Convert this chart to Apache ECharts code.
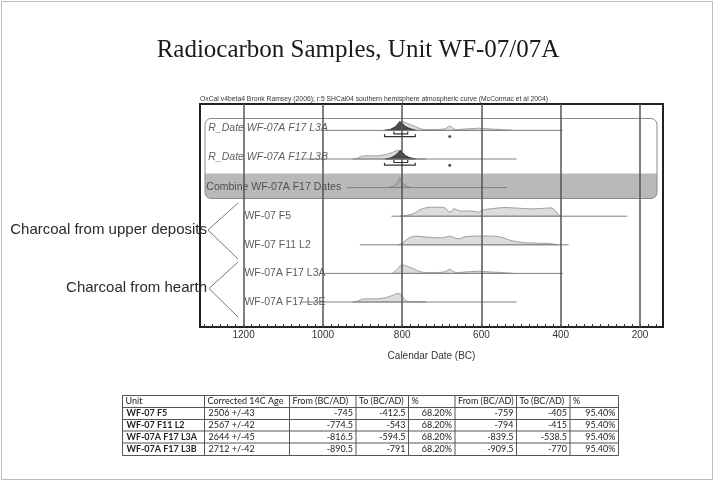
<!DOCTYPE html>
<html lang="en">
<head>
  <meta charset="UTF-8">
  <title>Radiocarbon Samples</title>
  <script src="https://cdn.jsdelivr.net/npm/echarts@6/dist/echarts.min.js"></script>
  <style>
    html, body { margin: 0; padding: 0; background: #fff; }
  </style>
</head>
<body>
<div id="chart" style="width: 715px; height: 482px"></div>
<script>

  // row labels of the OxCal multiplot, top to bottom
  const rowLabels = ['R_Date WF-07A F17 L3A', 'R_Date WF-07A F17 L3B', 'Combine WF-07A F17 Dates',
    'WF-07 F5', 'WF-07 F11 L2', 'WF-07A F17 L3A', 'WF-07A F17 L3E'];

  // range line of each row, calendar years BC [from, to]
  const rowRanges = [[1000, 395], [1057, 511], [940, 536], [827, 232], [907, 380], [995, 395], [1057, 511]];

  // probability curves: [year BC, height]
  const distL3A = [[825, 0], [815, 3], [805, 7.5], [798, 8.5], [790, 7.5], [780, 6], [770, 4.5], [760, 2.5],
    [750, 1.2], [740, 0.7], [720, 0.8], [705, 1], [692, 1.5], [684, 3.5], [680, 4.3], [675, 3], [668, 1.2],
    [660, 0.8], [645, 1.3], [625, 1.8], [606, 2.2], [590, 1.8], [575, 1.3], [555, 1], [535, 0.4], [520, 0]];
  const distL3B = [[925, 0], [915, 0.5], [900, 3], [880, 3.3], [865, 3], [850, 3.8], [840, 4.5], [825, 6.5],
    [812, 8.7], [805, 8], [800, 6], [795, 3], [790, 1], [780, 0.5], [760, 0.3], [740, 0]];
  const distF5 = [[805, 0], [790, 0.8], [775, 2], [765, 4], [755, 6.5], [745, 8], [730, 9], [715, 9], [700, 9],
    [690, 8], [682, 4], [676, 5], [669, 7.7], [660, 6], [650, 5], [640, 5.2], [625, 5], [614, 4.7], [606, 3.7],
    [600, 6], [590, 6.8], [575, 7.5], [556, 8.3], [540, 8.7], [520, 8.3], [506, 8], [490, 7.6], [473, 7.3],
    [455, 7.6], [439, 8], [422, 8.3], [414, 6], [405, 1], [400, 0]];
  const distF11 = [[810, 0], [800, 1.5], [790, 5], [780, 7.5], [765, 8.7], [750, 8.2], [740, 7.7], [715, 7],
    [698, 7], [688, 8], [681, 8.7], [675, 8], [669, 7.3], [660, 6], [652, 6.5], [644, 8], [623, 8.7], [600, 8.8],
    [580, 8.7], [564, 8.5], [548, 7.5], [535, 5.5], [523, 4], [505, 2.7], [489, 2], [470, 1.8], [456, 1.5],
    [431, 1.5], [414, 0.5], [405, 0]];
  const distCombine = [[835, 0], [825, 1], [818, 2.5], [812, 5], [806, 10], [800, 5], [794, 2.5], [786, 1], [778, 0]];
  // modelled (posterior) curves of the two R_Dates
  const postL3A = [[845, 0], [830, 1], [820, 3], [812, 6], [806, 9], [800, 7], [792, 4], [782, 2], [772, 0.8], [765, 0]];
  const postL3B = [[842, 0], [830, 1], [820, 3], [812, 5.5], [805, 8.7], [799, 6.5], [792, 3.5], [782, 1.5], [772, 0.6], [767, 0]];

  // 68.2% and 95.4% brackets and the lone dot under the R_Dates
  const range68 = [[821, 786], [821, 786]];
  const range95 = [[844.5, 767], [844.5, 767]];
  const dotYears = [680, 680];

  const gridYears = [200, 400, 600, 800, 1000, 1200];

  // table under the plot
  const tableHeader = ['Unit', 'Corrected 14C Age', 'From (BC/AD)', 'To (BC/AD)', '%', 'From (BC/AD)', 'To (BC/AD)', '%'];
  const units = ['WF-07 F5', 'WF-07 F11 L2', 'WF-07A F17 L3A', 'WF-07A F17 L3B'];
  const ages = ['2506 +/-43', '2567 +/-42', '2644 +/-45', '2712 +/-42'];
  const from68 = [-745, -774.5, -816.5, -890.5];
  const to68 = [-412.5, -543, -594.5, -791];
  const from95 = [-759, -794, -839.5, -909.5];
  const to95 = [-405, -415, -538.5, -770];

  // --- layout ---
  const rowBase = rowLabels.map((_, i) => 25 + 28.6 * (6 - i));
  const minorTicks = [];
  for (let v = 160; v <= 1300; v += 20) minorTicks.push(v);

  function areaSeries(points, base, fill, stroke, z) {
    return {
      type: 'custom',
      z: z,
      silent: true,
      data: points.map(p => [p[0], base + p[1]]),
      renderItem: function (params, api) {
        if (params.dataIndex !== 0) return;
        const pts = points.map(p => api.coord([p[0], base + p[1]]));
        return {
          type: 'polygon',
          shape: { points: pts },
          style: { fill: fill, stroke: stroke, lineWidth: 1 }
        };
      }
    };
  }

  const series = [];

  // curves
  const curves = [
    [distL3A, 0, '#dcdcdc', '#a0a0a0'],
    [distL3B, 1, '#dcdcdc', '#a0a0a0'],
    [distCombine, 2, 'rgba(150,150,150,0.35)', '#888'],
    [distF5, 3, '#dcdcdc', '#a0a0a0'],
    [distF11, 4, '#dcdcdc', '#a0a0a0'],
    [distL3A, 5, '#dcdcdc', '#a0a0a0'],
    [distL3B, 6, '#dcdcdc', '#a0a0a0']
  ];
  curves.forEach(c => series.push(areaSeries(c[0], rowBase[c[1]], c[2], c[3], 2)));
  series.push(areaSeries(postL3A, rowBase[0], '#4a4a4a', '#333', 3));
  series.push(areaSeries(postL3B, rowBase[1], '#4a4a4a', '#333', 3));

  // range lines
  rowRanges.forEach((r, i) => {
    series.push({
      type: 'line',
      z: 4,
      silent: true,
      symbol: 'none',
      data: [[r[0], rowBase[i]], [r[1], rowBase[i]]],
      lineStyle: { color: '#808080', width: 1 }
    });
  });

  // brackets
  const bracketData = [];
  range68.forEach((r, i) => bracketData.push([r[0], r[1], rowBase[i] - 3.5]));
  range95.forEach((r, i) => bracketData.push([r[0], r[1], rowBase[i] - 6.2]));
  series.push({
    type: 'custom',
    z: 5,
    silent: true,
    data: bracketData,
    renderItem: function (params, api) {
      const a = api.coord([api.value(0), api.value(2)]);
      const b = api.coord([api.value(1), api.value(2)]);
      return {
        type: 'polyline',
        shape: { points: [[a[0], a[1] - 2.5], a, b, [b[0], b[1] - 2.5]] },
        style: { stroke: '#333', lineWidth: 1.2, fill: null }
      };
    }
  });
  series.push({
    type: 'scatter',
    z: 5,
    silent: true,
    symbolSize: 3,
    itemStyle: { color: '#222' },
    data: dotYears.map((y, i) => [y, rowBase[i] - 6.2])
  });

  // row labels
  const labelAt = [1289, 1289, 1294, 1198, 1198, 1198, 1198];
  series.push({
    type: 'scatter',
    z: 1,
    silent: true,
    symbolSize: 0,
    data: rowLabels.map((name, i) => ({
      name: name,
      value: [labelAt[i], rowBase[i] + (i < 2 ? 2 : 0)],
      label: { fontStyle: i < 2 ? 'italic' : 'normal' }
    })),
    label: {
      show: true,
      position: 'right',
      distance: 0,
      formatter: '{b}',
      fontSize: 10.5,
      fontFamily: 'Liberation Sans',
      color: '#333'
    }
  });

  // grid lines
  series.push({
    type: 'line',
    z: 10,
    silent: true,
    symbol: 'none',
    data: [[200, 0]],
    lineStyle: { opacity: 0 },
    markLine: {
      silent: true,
      symbol: ['none', 'none'],
      label: { show: false },
      lineStyle: { color: '#555', width: 1.5, type: 'solid' },
      data: gridYears.map(v => ({ xAxis: v }))
    }
  });

  // --- table ---
  function buildTable() {
    const colX = [122.5, 204.5, 289.5, 356, 408.5, 455, 516.5, 570, 618.5];
    const rowY = [395.5, 407.5, 419.5, 431, 443, 455.5];
    const els = [];
    const font = '9px Lato';
    const bold = 'bold 9px Lato';
    tableHeader.forEach((t, c) => {
      els.push({ type: 'text', x: colX[c] + 3, y: (rowY[0] + rowY[1]) / 2,
        style: { text: t, font: font, fill: '#222', align: 'left', verticalAlign: 'middle' } });
    });
    units.forEach((u, r) => {
      const y = (rowY[r + 1] + rowY[r + 2]) / 2;
      const cells = [u, ages[r], String(from68[r]), String(to68[r]), '68.20%', String(from95[r]), String(to95[r]), '95.40%'];
      cells.forEach((t, c) => {
        const left = c < 2;
        els.push({ type: 'text', x: left ? colX[c] + 4 : colX[c + 1] - 3, y: y,
          style: { text: t, font: c === 0 ? bold : font, fill: '#222', align: left ? 'left' : 'right', verticalAlign: 'middle' } });
      });
    });
    rowY.forEach(y => els.push({ type: 'line', shape: { x1: colX[0], y1: y, x2: colX[8], y2: y },
      style: { stroke: '#555', lineWidth: 1 } }));
    colX.forEach(x => els.push({ type: 'line', shape: { x1: x, y1: rowY[0], x2: x, y2: rowY[5] },
      style: { stroke: '#555', lineWidth: 1 } }));
    return els;
  }

  const graphic = [
    { type: 'rect', shape: { x: 1.5, y: 1.5, width: 711, height: 478 }, style: { fill: 'none', stroke: '#bbb', lineWidth: 1 }, z: 0 },
    { type: 'text', x: 358, y: 50, style: { text: 'Radiocarbon Samples, Unit WF-07/07A', font: '25px "Liberation Serif"', fill: '#1a1a1a', align: 'center', verticalAlign: 'middle' } },
    { type: 'text', x: 200, y: 99.5, style: { text: 'OxCal v4beta4 Bronk Ramsey (2006); r:5 SHCal04 southern hemisphere atmospheric curve (McCormac et al 2004)', font: '6.8px "Liberation Sans"', fill: '#333', align: 'left', verticalAlign: 'middle' } },
    // R_Date group box, gray band for the Combine row
    { type: 'rect', z: -1, shape: { x: 205, y: 173.5, width: 452, height: 25, r: [0, 0, 6, 6] }, style: { fill: '#b9b9b9' } },
    { type: 'rect', z: -1, shape: { x: 205, y: 118.5, width: 452, height: 80, r: 6 }, style: { fill: 'none', stroke: '#8a8a8a', lineWidth: 1 } },
    // braces
    { type: 'polyline', shape: { points: [[238, 203], [208, 230], [238, 259]] }, style: { stroke: '#777', lineWidth: 1, fill: null } },
    { type: 'polyline', shape: { points: [[238, 262], [209, 288.5], [238, 317]] }, style: { stroke: '#777', lineWidth: 1, fill: null } },
    { type: 'text', x: 207, y: 229.5, style: { text: 'Charcoal from upper deposits', font: '15px "Liberation Sans"', fill: '#2a2a2a', align: 'right', verticalAlign: 'middle' } },
    { type: 'text', x: 207, y: 287.5, style: { text: 'Charcoal from hearth', font: '15px "Liberation Sans"', fill: '#2a2a2a', align: 'right', verticalAlign: 'middle' } }
  ].concat(buildTable());

  const chart = echarts.init(document.getElementById('chart'));
  chart.setOption({
    animation: false,
    backgroundColor: '#fff',
    grid: { left: 200, right: 52, top: 104, bottom: 155, show: true, borderColor: '#222', borderWidth: 2 },
    xAxis: {
      type: 'value',
      inverse: true,
      min: 142,
      max: 1310,
      axisLine: { show: true, lineStyle: { color: '#222', width: 2 } },
      axisTick: { show: true, inside: true, length: 3, customValues: minorTicks, lineStyle: { color: '#333' } },
      axisLabel: { customValues: gridYears, formatter: v => String(v), fontSize: 10, fontFamily: 'Liberation Sans', color: '#333', margin: 3 },
      splitLine: { show: false },
      name: 'Calendar Date (BC)',
      nameLocation: 'middle',
      nameGap: 24,
      nameTextStyle: { fontSize: 10, fontFamily: 'Liberation Sans', color: '#333' }
    },
    yAxis: { type: 'value', min: 0, max: 223, show: false },
    graphic: graphic,
    series: series
  });
</script>
</body>
</html>
